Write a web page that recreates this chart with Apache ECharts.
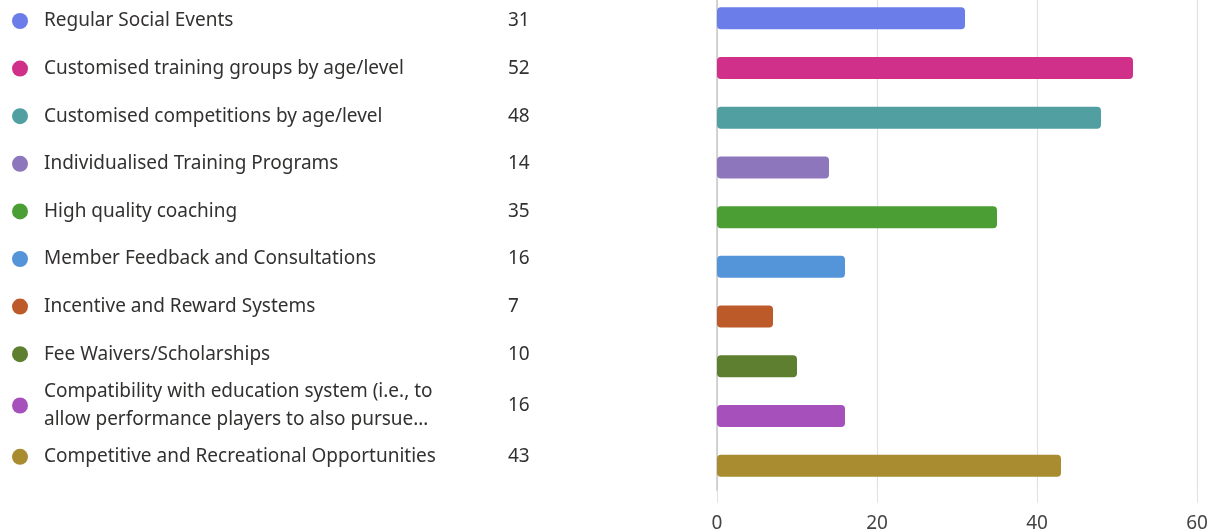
<!DOCTYPE html>
<html>
<head>
<meta charset="utf-8">
<script src="https://cdn.jsdelivr.net/npm/echarts@6/dist/echarts.min.js"></script>
<style>
  html, body { margin: 0; padding: 0; background: #ffffff; }
  #chart { width: 1218px; height: 530px; }
</style>
</head>
<body>
<div id="chart"></div>
<script>
// Survey answers: option labels, response counts and colours
const categories = [
  'Regular Social Events',
  'Customised training groups by age/level',
  'Customised competitions by age/level',
  'Individualised Training Programs',
  'High quality coaching',
  'Member Feedback and Consultations',
  'Incentive and Reward Systems',
  'Fee Waivers/Scholarships',
  'Compatibility with education system (i.e., to\nallow performance players to also pursue…',
  'Competitive and Recreational Opportunities'
];
const counts = [31, 52, 48, 14, 35, 16, 7, 10, 16, 43];
const colors = [
  '#6a7de8', '#d0308a', '#529fa2', '#8e76bd', '#4b9e34',
  '#5495d9', '#bd5a2a', '#5e7f2f', '#a650bc', '#a88c2f'
];
const xTicks = [0, 20, 40, 60];

const FONT = '"Noto Sans", "Open Sans", sans-serif';
const ROW_H = 47.6;      // height of a single-line list row
const LINE_H = 27.5;     // line height inside a wrapped row
const LIST_TOP = -7.8;

const rowStyle = name => ({
  lineHeight: name.indexOf('\n') >= 0 ? LINE_H : ROW_H
});

// one series per answer so each gets its own list entry
const series = categories.map((name, i) => ({
  name: name,
  type: 'bar',
  barWidth: 22,
  barGap: '-100%',
  itemStyle: { color: colors[i], borderRadius: 4 },
  emphasis: { disabled: true },
  data: categories.map((_, j) => (j === i ? counts[i] : '-'))
}));

const chart = echarts.init(document.getElementById('chart'), null, { renderer: 'canvas' });
chart.setOption({
  animation: false,
  backgroundColor: '#ffffff',
  textStyle: { fontFamily: FONT },
  legend: [
    {
      // names with coloured dots
      orient: 'vertical',
      left: 7,
      top: LIST_TOP,
      padding: 5,
      itemGap: 0,
      itemWidth: 16,
      itemHeight: ROW_H,
      icon: 'circle',
      selectedMode: false,
      textStyle: { fontSize: 19, color: '#323130', fontFamily: FONT, padding: [0, 0, 0, 11] },
      data: categories.map(name => ({ name: name, textStyle: rowStyle(name) }))
    },
    {
      // response counts column
      orient: 'vertical',
      left: 498,
      top: LIST_TOP,
      padding: 5,
      itemGap: 0,
      itemWidth: 0,
      itemHeight: ROW_H,
      icon: 'rect',
      itemStyle: { opacity: 0 },
      selectedMode: false,
      textStyle: { fontSize: 19, color: '#323130', fontFamily: FONT },
      formatter: name => String(counts[categories.indexOf(name)]),
      data: categories.map(name => ({
        name: name,
        textStyle: { lineHeight: name.indexOf('\n') >= 0 ? LINE_H * 2 : ROW_H }
      }))
    }
  ],
  grid: {
    left: 717, right: 21, top: -6.5, bottom: 39.5,
    containLabel: false,
    outerBoundsMode: 'none'
  },
  xAxis: {
    type: 'value',
    min: xTicks[0],
    max: xTicks[xTicks.length - 1],
    interval: 20,
    axisLine: { show: false },
    axisTick: { show: true, length: 12, lineStyle: { color: '#e1e1e1' } },
    splitLine: { show: true, lineStyle: { color: '#e1e1e1', width: 1.2 } },
    axisLabel: { color: '#444444', fontSize: 19, margin: 24, fontFamily: FONT }
  },
  yAxis: {
    type: 'category',
    inverse: true,
    data: categories,
    axisLine: { show: true, lineStyle: { color: '#c8c8c8', width: 1.5 } },
    axisTick: { show: false },
    axisLabel: { show: false }
  },
  series: series
});
</script>
</body>
</html>
